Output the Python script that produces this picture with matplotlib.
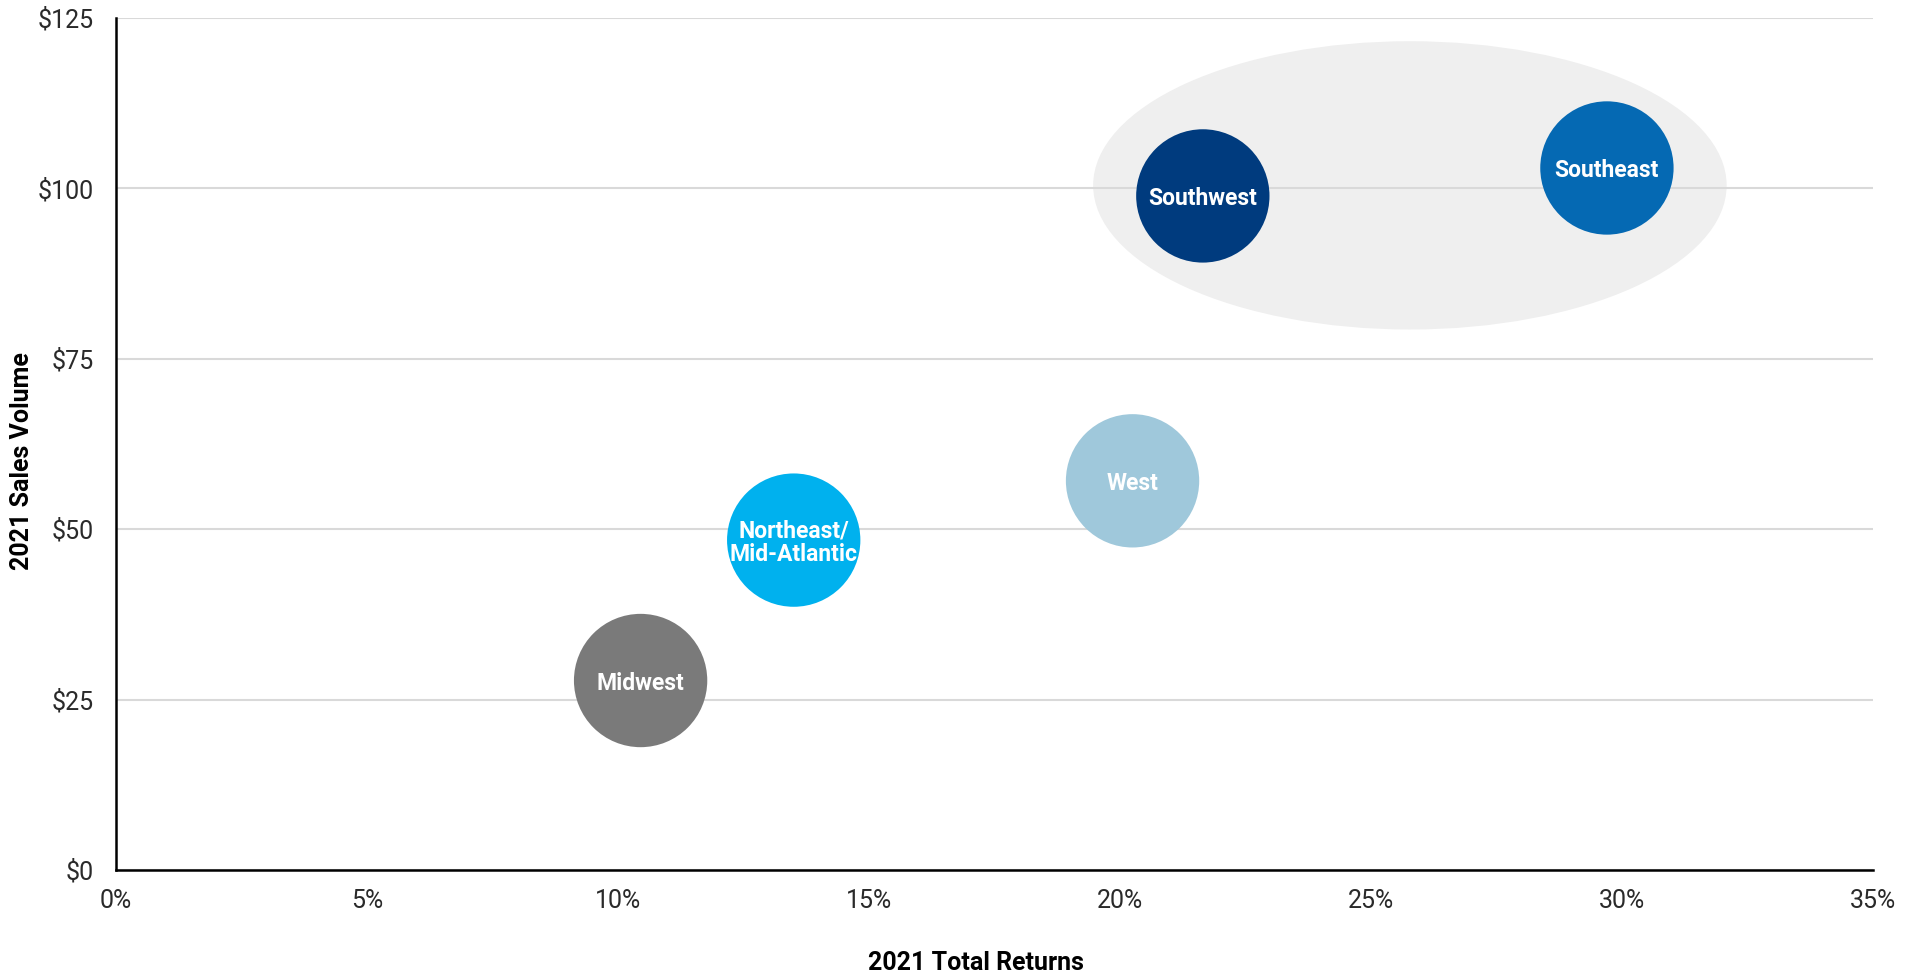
import matplotlib
matplotlib.use("Agg")
import matplotlib.pyplot as plt
from matplotlib.patches import Ellipse
from matplotlib.ticker import FuncFormatter
from matplotlib.transforms import offset_copy

plt.rcParams['font.family'] = ['Roboto', 'DejaVu Sans']

# Regional data
regions = ["Midwest", "Northeast/\nMid-Atlantic", "West", "Southwest", "Southeast"]
total_returns = [10.45, 13.5, 20.25, 21.65, 29.7]   # %
sales_volume = [27.8, 48.4, 57.1, 98.9, 103.0]      # $ billions
colors = ["#7a7a7a", "#00b1ee", "#9fc8db", "#003b7e", "#0569b3"]
highlighted = ["Southwest", "Southeast"]

x_ticks = [0, 5, 10, 15, 20, 25, 30, 35]
y_ticks = [0, 25, 50, 75, 100, 125]

fig = plt.figure(figsize=(19.21, 9.75), dpi=100)
ax = fig.add_axes([0.0604, 0.1077, 0.9146, 0.8738])

ax.set_xlim(0, 35)
ax.set_ylim(0, 125)

# Shaded oval around the top-performing regions
idx = [regions.index(r) for r in highlighted]
hx = [total_returns[i] for i in idx]
hy = [sales_volume[i] for i in idx]
cx = (min(hx) + max(hx)) / 2 + 0.1
cy = (min(hy) + max(hy)) / 2 - 0.5
ax.add_patch(Ellipse((cx, cy), (max(hx) - min(hx)) + 4.57, 42.3,
                     facecolor="#efefef", edgecolor="none", zorder=0.2))

ax.grid(axis="y", color="#d9d9d9", linewidth=1.5, zorder=0.5)
ax.set_axisbelow(True)

ax.scatter(total_returns, sales_volume, s=96.0 ** 2, c=colors,
           edgecolors="none", zorder=3)

label_tf = offset_copy(ax.transData, fig=fig, x=0, y=-2, units="points")
for name, x, y in zip(regions, total_returns, sales_volume):
    ax.text(x, y, name, color="white", fontsize=16.5, fontweight="bold",
            ha="center", va="center", linespacing=1.0, zorder=4,
            transform=label_tf)

ax.set_xticks(x_ticks)
ax.set_yticks(y_ticks)
ax.xaxis.set_major_formatter(FuncFormatter(lambda v, p: f"{v:.0f}%"))
ax.yaxis.set_major_formatter(FuncFormatter(lambda v, p: f"${v:.0f}"))
ax.tick_params(axis="both", length=0, labelsize=18, colors="#2a2a2a")
ax.tick_params(axis="x", pad=14)
ax.tick_params(axis="y", pad=16)

for s in ["top", "right"]:
    ax.spines[s].set_visible(False)
for s in ["left", "bottom"]:
    ax.spines[s].set_color("black")
    ax.spines[s].set_linewidth(1.8)
    ax.spines[s].set_zorder(5)

ax.set_xlabel("2021 Total Returns", fontsize=18, fontweight="bold", va="center")
ax.set_ylabel("2021 Sales Volume", fontsize=18, fontweight="bold", va="center")
ax.xaxis.set_label_coords(0.4895, -0.109)
ax.yaxis.set_label_coords(-0.0535, 0.48)

fig.savefig("out.png", dpi=100)
